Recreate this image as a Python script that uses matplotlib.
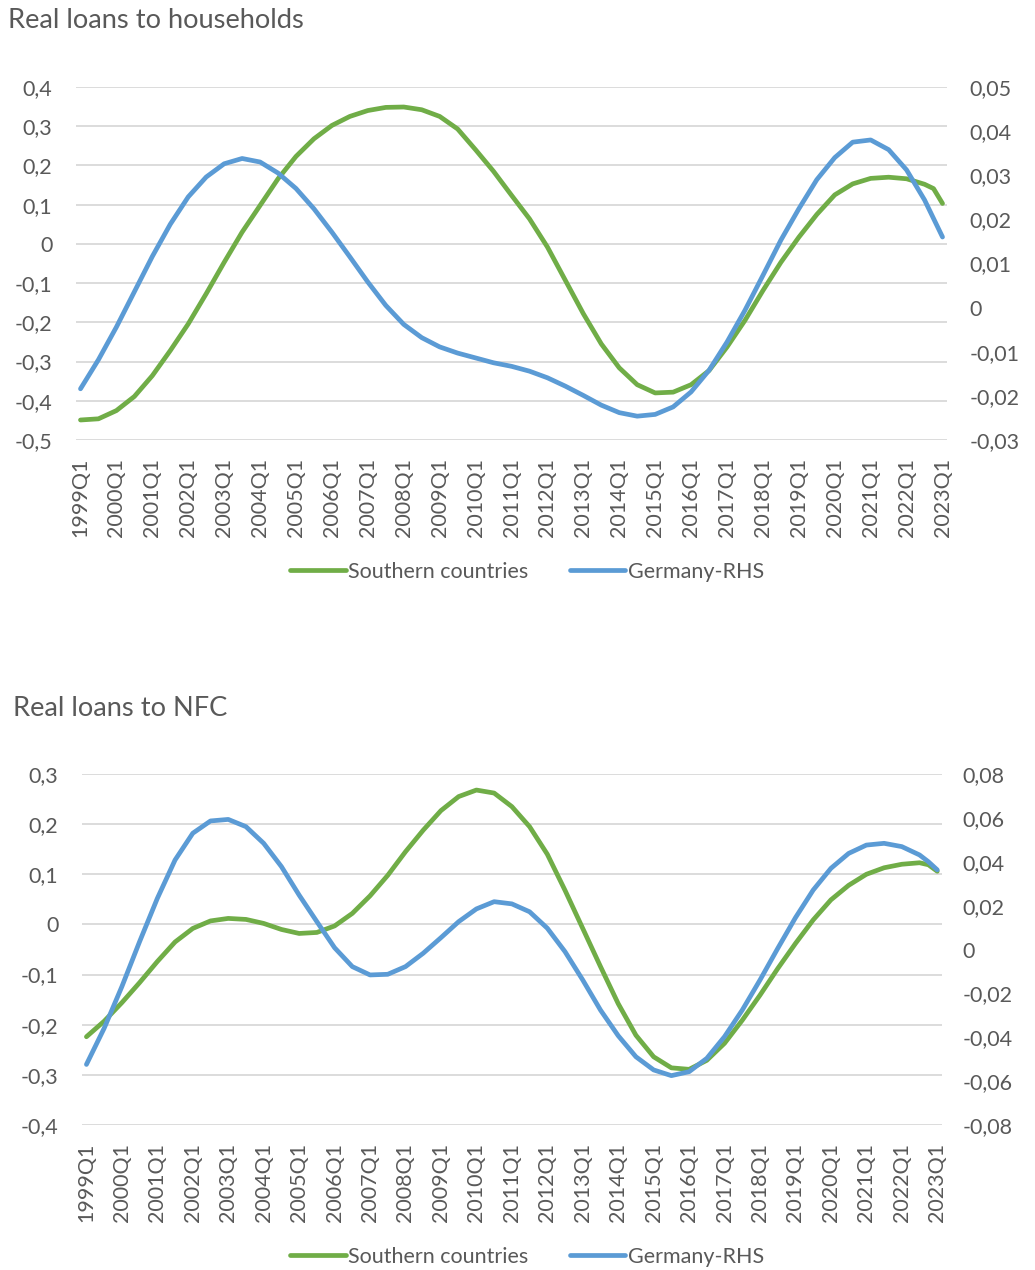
import numpy as np
import matplotlib.pyplot as plt
from matplotlib.ticker import FixedLocator, FuncFormatter

plt.rcParams['font.family'] = ['Lato', 'DejaVu Sans']

# quarterly category axis 1999Q1 .. 2023Q1
quarters = [f"{y}Q{q}" for y in range(1999, 2024) for q in range(1, 5)][:97]
# quarters at which the curves were read (half-yearly, plus the last two)
obs = quarters[0:95:2] + ["2022Q4", "2023Q1"]

# ── Real loans to households ────────────────────────────────
hh_south = [-0.449, -0.446, -0.425, -0.389, -0.336, -0.272, -0.204, -0.127,
            -0.047, 0.030, 0.098, 0.166, 0.223, 0.268, 0.302, 0.325,
            0.340, 0.348, 0.349, 0.342, 0.325, 0.293, 0.240, 0.185,
            0.124, 0.064, -0.008, -0.093, -0.178, -0.255, -0.316, -0.359,
            -0.380, -0.378, -0.359, -0.323, -0.263, -0.195, -0.119, -0.047,
            0.017, 0.075, 0.125, 0.153, 0.167, 0.170, 0.166, 0.152,
            0.141, 0.103]
hh_germany = [-0.0184, -0.0118, -0.0044, 0.0036, 0.0116, 0.0189, 0.0251, 0.0296,
              0.0326, 0.0338, 0.0330, 0.0305, 0.0270, 0.0224, 0.0171, 0.0115,
              0.0058, 0.0005, -0.0038, -0.0068, -0.0089, -0.0103, -0.0114, -0.0125,
              -0.0133, -0.0144, -0.0159, -0.0178, -0.0199, -0.0221, -0.0238, -0.0246,
              -0.0242, -0.0225, -0.0191, -0.0142, -0.0078, -0.0006, 0.0073, 0.0153,
              0.0224, 0.0290, 0.0340, 0.0375, 0.0380, 0.0358, 0.0312, 0.0244,
              0.0202, 0.0160]

# ── Real loans to NFC ───────────────────────────────────────
nfc_south = [-0.224, -0.193, -0.156, -0.116, -0.074, -0.035, -0.008, 0.007,
             0.012, 0.010, 0.002, -0.010, -0.018, -0.016, -0.003, 0.022,
             0.057, 0.098, 0.145, 0.188, 0.227, 0.255, 0.268, 0.262,
             0.235, 0.195, 0.140, 0.068, -0.008, -0.084, -0.158, -0.221,
             -0.264, -0.286, -0.289, -0.271, -0.237, -0.191, -0.141, -0.088,
             -0.038, 0.009, 0.049, 0.078, 0.100, 0.113, 0.120, 0.123,
             0.119, 0.106]
nfc_germany = [-0.0524, -0.0359, -0.0169, 0.0036, 0.0233, 0.0408, 0.0530, 0.0586,
               0.0593, 0.0560, 0.0484, 0.0378, 0.0248, 0.0127, 0.0008, -0.0078,
               -0.0116, -0.0113, -0.0078, -0.0017, 0.0054, 0.0127, 0.0185, 0.0218,
               0.0208, 0.0172, 0.0097, -0.0010, -0.0139, -0.0276, -0.0393, -0.0489,
               -0.0549, -0.0575, -0.0557, -0.0496, -0.0397, -0.0276, -0.0139, 0.0005,
               0.0145, 0.0271, 0.0370, 0.0438, 0.0476, 0.0484, 0.0469, 0.0431,
               0.0400, 0.0363]

hh_left_ticks = [0.4, 0.3, 0.2, 0.1, 0, -0.1, -0.2, -0.3, -0.4, -0.5]
hh_right_ticks = [0.05, 0.04, 0.03, 0.02, 0.01, 0, -0.01, -0.02, -0.03]
nfc_left_ticks = [0.3, 0.2, 0.1, 0, -0.1, -0.2, -0.3, -0.4]
nfc_right_ticks = [0.08, 0.06, 0.04, 0.02, 0, -0.02, -0.04, -0.06, -0.08]

labels = ["Southern countries", "Germany-RHS"]
GREEN = "#70AD47"
BLUE = "#5B9BD5"
GRID = "#D9D9D9"
TXT = "#595959"
FS = 15.5

x = [quarters.index(p) for p in obs]
year_ticks = list(range(0, 97, 4))


def comma(v, pos=None):
    s = f"{round(v, 4):g}".replace(".", ",")
    return "0" if s in ("0", "-0") else s


def panel(rect, south, germany, lticks, rticks, ypad_l, ypad_r):
    ax = fig.add_axes(rect)
    ax2 = ax.twinx()
    ax.set_xlim(-0.5, 96.5)
    ax.set_ylim(lticks[-1], lticks[0])
    ax2.set_ylim(rticks[-1], rticks[0])
    ax.yaxis.set_major_locator(FixedLocator(lticks))
    ax2.yaxis.set_major_locator(FixedLocator(rticks))
    ax.yaxis.set_major_formatter(FuncFormatter(comma))
    ax2.yaxis.set_major_formatter(FuncFormatter(comma))
    ax.set_xticks(year_ticks)
    ax.set_xticklabels([quarters[i] for i in year_ticks], rotation=90)
    ax.grid(axis="y", color=GRID, lw=1.3)
    ax.set_axisbelow(True)
    for a in (ax, ax2):
        for s in a.spines.values():
            s.set_visible(False)
        a.tick_params(length=0, labelsize=FS, labelcolor=TXT)
    ax.tick_params(axis="x", pad=13)
    ax.tick_params(axis="y", pad=ypad_l)
    ax2.tick_params(axis="y", pad=ypad_r)
    l1, = ax.plot(x, south, color=GREEN, lw=3.4, solid_capstyle="round",
                  solid_joinstyle="round", zorder=3)
    l2, = ax2.plot(x, germany, color=BLUE, lw=3.4, solid_capstyle="round",
                   solid_joinstyle="round", zorder=3)
    return l1, l2


fig = plt.figure(figsize=(10.35, 12.7), dpi=100)
W, H = 1035, 1270

h1, h2 = panel([76 / W, 1 - 440 / H, 871 / W, 353 / H],
               hh_south, hh_germany, hh_left_ticks, hh_right_ticks, 17, 16)
fig.text(8 / W, 1 - 21 / H, "Real loans to households", fontsize=19.6,
         color=TXT, ha="left", va="center")
fig.legend([h1, h2], labels, loc="center", bbox_to_anchor=(527 / W, 1 - 572 / H),
           ncol=2, frameon=False, fontsize=FS, labelcolor=TXT,
           handlelength=2.6, handletextpad=0.1, columnspacing=1.9)

n1, n2 = panel([82 / W, 1 - 1125 / H, 859.7 / W, 351 / H],
               nfc_south, nfc_germany, nfc_left_ticks, nfc_right_ticks, 17, 15)
fig.text(13 / W, 1 - 709 / H, "Real loans to NFC", fontsize=19.6,
         color=TXT, ha="left", va="center")
fig.legend([n1, n2], labels, loc="center", bbox_to_anchor=(527 / W, 1 - 1257 / H),
           ncol=2, frameon=False, fontsize=FS, labelcolor=TXT,
           handlelength=2.6, handletextpad=0.1, columnspacing=1.9)

fig.savefig("out.png", dpi=100)
